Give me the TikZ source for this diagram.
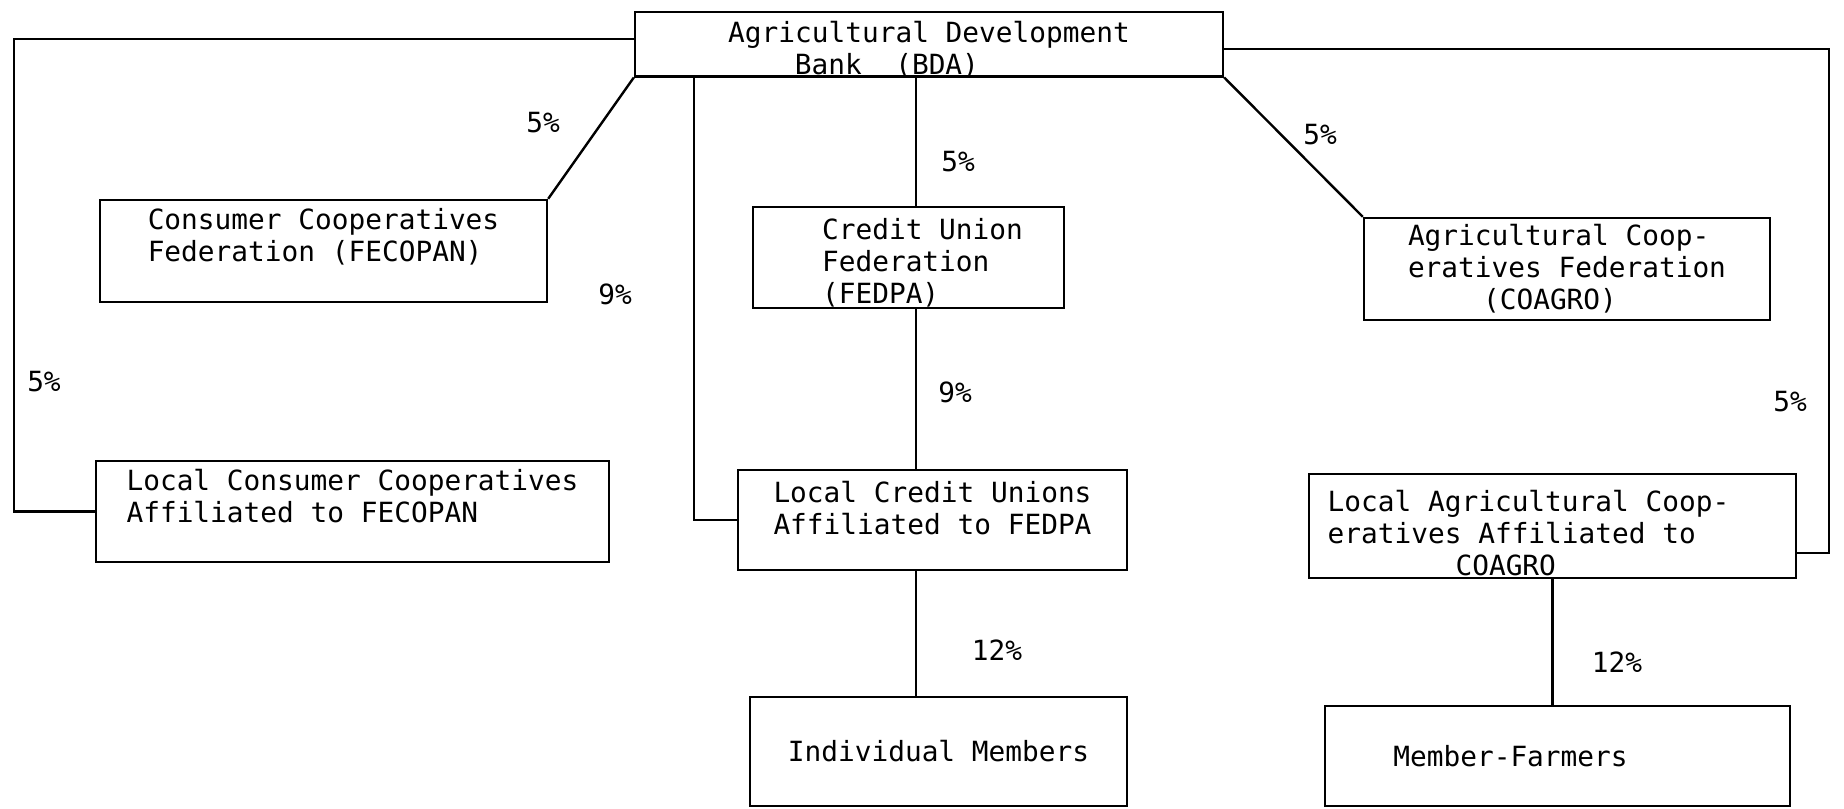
\documentclass[tikz,border=0pt]{standalone}
\usepackage{fontspec}
\setmainfont{DejaVu Sans Mono}
\usepackage{tikz}

\begin{document}
\begin{tikzpicture}[x=0.5pt,y=-0.5pt,line width=1.2pt,
  mybox/.style={draw,align=left,inner sep=1pt,font=\fontsize{13.9}{16}\selectfont},
  mylabel/.style={inner sep=0pt,font=\fontsize{13.9}{16}\selectfont}
]
\useasboundingbox (0,0) rectangle (1844,809);

\node[mybox,minimum width=294pt,minimum height=32pt,text height=30.3pt,text depth=-1.1pt] at (929,44) (A) {Agricultural Development\\\hspace*{2.4em}Bank~~(BDA)};

\node[mybox,minimum width=223.5pt,minimum height=51pt] at (323.5,251) (C1) {Consumer Cooperatives\\Federation (FECOPAN)\\~};
\node[mybox,minimum width=256.5pt,minimum height=50.5pt] at (352.5,511.5) (C2) {Local Consumer Cooperatives\\Affiliated to FECOPAN\\~};

\node[mybox,minimum width=155.5pt,minimum height=50.5pt,text height=47.2pt,text depth=1.2pt] at (908.5,257.5) (U1) {\hspace*{14pt}Credit Union\\\hspace*{14pt}Federation\\\hspace*{14pt}(FEDPA)};
\node[mybox,minimum width=194.5pt,minimum height=50pt,align=center] at (932.5,520) (U2) {Local Credit Unions\\Affiliated to FEDPA\\[-4pt]~};
\node[mybox,minimum width=188.5pt,minimum height=54.5pt] at (938.5,751.5) (U3) {Individual Members};

\node[mybox,minimum width=203pt,minimum height=51pt] at (1567,269) (G1) {Agricultural Coop-\\eratives Federation\\\hspace*{2.7em}(COAGRO)};
\node[mybox,minimum width=243.5pt,minimum height=50pt,text height=49.9pt,text depth=-1.9pt] at (1552.5,526) (G2) {Local Agricultural Coop-\hspace*{24pt}\\eratives Affiliated to\\\hspace*{4.6em}COAGRO};
\node[mybox,minimum width=232.5pt,minimum height=50pt] at (1557.5,756) (G3) {Member-Farmers\hspace*{47pt}};

\node[mylabel] at (44,382) (P1) {5\%};
\node[mylabel] at (543,123) (P2) {5\%};
\node[mylabel] at (615,294) (P3) {9\%};
\node[mylabel] at (958,162) (P4) {5\%};
\node[mylabel] at (955,392) (P5) {9\%};
\node[mylabel] at (997,650) (P6) {12\%};
\node[mylabel] at (1320,135) (P7) {5\%};
\node[mylabel] at (1790,402) (P8) {5\%};
\node[mylabel] at (1617,662) (P9) {12\%};

\coordinate (L) at (14,300);
\coordinate (K) at (694,300);
\coordinate (S) at (916,300);
\coordinate (R) at (1829,300);

\draw ([yshift=2.4pt]A.west) -| (L) |- (C2.west);
\draw ([yshift=-2.5pt]A.east) -| (R) |- ([yshift=13pt]G2.south east);
\draw (A.south -| K) |- (U2.west);

\path
(A.south west) edge (C1.north east)
(A.south east) edge (G1.north west);

\path
(A.south -| S) edge (U1.north -| S)
(U1.south -| S) edge (U2.north -| S)
(U2.south -| S) edge (U3.north -| S)
(G2.south) edge (G2.south |- G3.north);

\end{tikzpicture}
\end{document}
